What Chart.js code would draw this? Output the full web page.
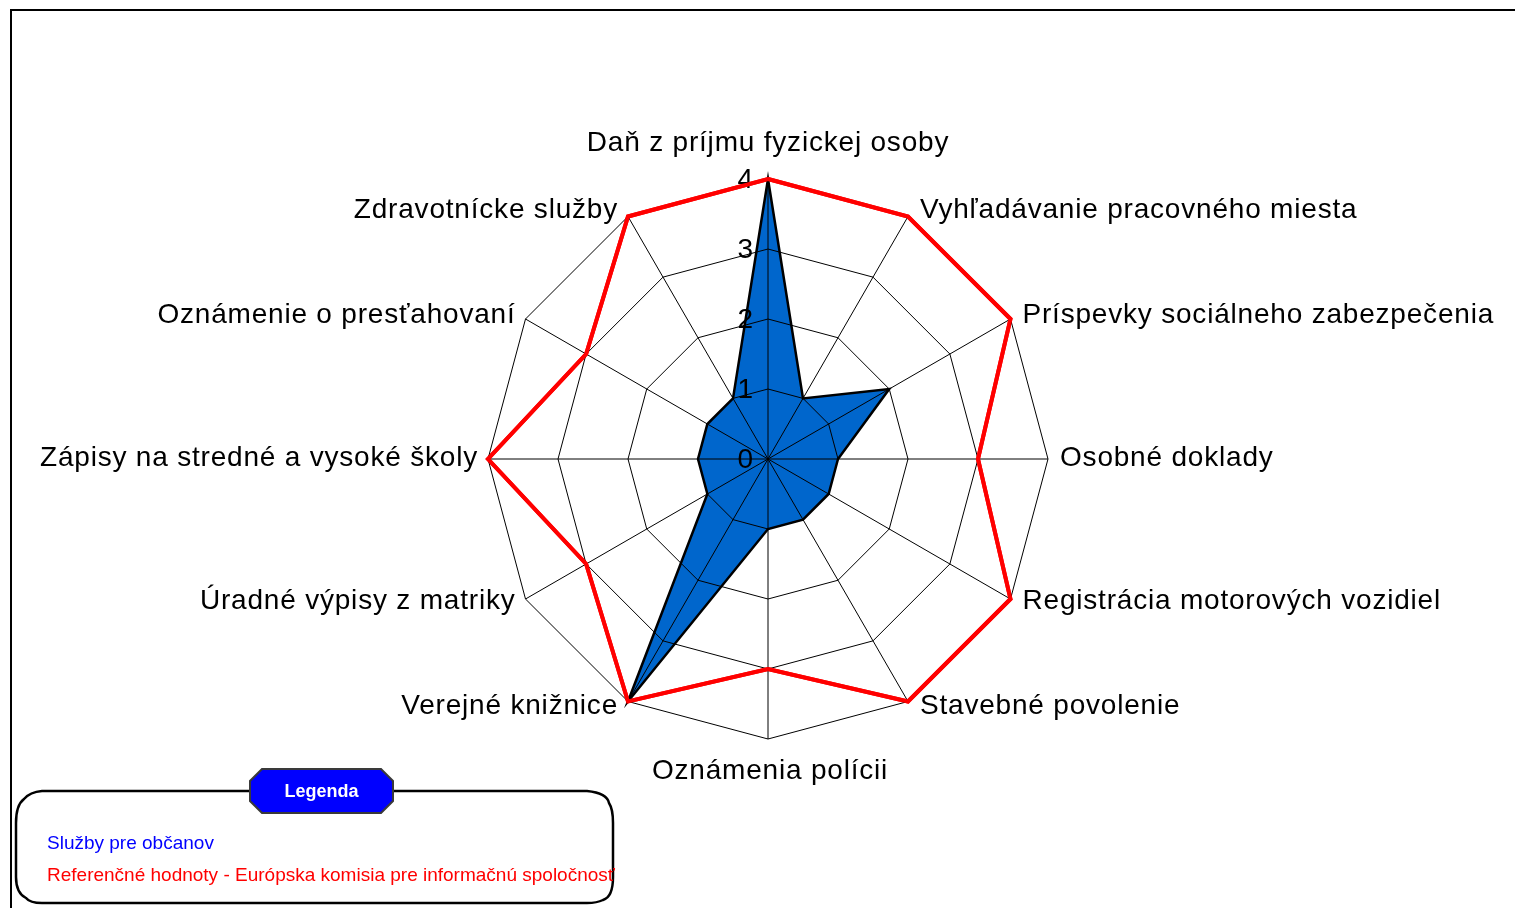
<!DOCTYPE html>
<html>
<head>
<meta charset="utf-8">
<script src="https://cdn.jsdelivr.net/npm/chart.js@4"></script>
<style>
  html, body { margin: 0; padding: 0; background: #ffffff; }
  #wrap { position: relative; width: 1515px; height: 908px; }
  canvas { display: block; }
</style>
</head>
<body>
<div id="wrap"><canvas id="c" width="1515" height="908"></canvas></div>
<script>
const categories = [
  'Daň z príjmu fyzickej osoby',
  'Vyhľadávanie pracovného miesta',
  'Príspevky sociálneho zabezpečenia',
  'Osobné doklady',
  'Registrácia motorových vozidiel',
  'Stavebné povolenie',
  'Oznámenia polícii',
  'Verejné knižnice',
  'Úradné výpisy z matriky',
  'Zápisy na stredné a vysoké školy',
  'Oznámenie o presťahovaní',
  'Zdravotnícke služby'
];
const sluzbyValues = [4, 1, 2, 1, 1, 1, 1, 4, 1, 1, 1, 1];
const referenceValues = [4, 4, 4, 3, 4, 4, 3, 4, 3, 4, 3, 4];
const tickLabels = ['0', '1', '2', '3', '4'];
const seriesNames = ['Služby pre občanov', 'Referenčné hodnoty - Európska komisia pre informačnú spoločnosť'];
const legendTitle = 'Legenda';

const FONT = '"Liberation Sans", Arial, sans-serif';

const decorPlugin = {
  id: 'decor',
  beforeDraw(chart) {
    const ctx = chart.ctx;
    ctx.save();
    ctx.fillStyle = '#ffffff';
    ctx.fillRect(0, 0, chart.width, chart.height);
    ctx.strokeStyle = '#000000';
    ctx.lineWidth = 2;
    ctx.beginPath();
    ctx.moveTo(11, chart.height);
    ctx.lineTo(11, 10);
    ctx.lineTo(chart.width, 10);
    ctx.stroke();
    ctx.restore();
  },
  afterDraw(chart) {
    const ctx = chart.ctx;
    const scale = chart.scales.r;
    const R = scale.drawingArea;
    const n = chart.data.labels.length;

    // tick labels
    ctx.save();
    ctx.fillStyle = '#000000';
    ctx.font = '28px ' + FONT;
    ctx.textAlign = 'right';
    ctx.textBaseline = 'alphabetic';
    tickLabels.forEach((t) => {
      const d = scale.getDistanceFromCenterForValue(Number(t));
      ctx.fillText(t, scale.xCenter - 15, scale.yCenter - d + 9);
    });
    ctx.restore();

    // point labels
    ctx.save();
    ctx.fillStyle = '#000000';
    ctx.font = '28px ' + FONT;
    try { ctx.letterSpacing = '0.8px'; } catch (e) {}
    ctx.textBaseline = 'alphabetic';
    chart.data.labels.forEach((lab, i) => {
      const p = scale.getPointPosition(i, R);
      const theta = i * 2 * Math.PI / n;
      if (i === 0) {
        ctx.textAlign = 'center';
        ctx.fillText(lab, p.x, p.y - 28);
      } else if (i === n / 2) {
        ctx.textAlign = 'center';
        ctx.fillText(lab, p.x + 2, p.y + 40);
      } else {
        const right = i < n / 2;
        ctx.textAlign = right ? 'left' : 'right';
        const x = p.x + (right ? 12 : -10);
        const y = p.y + 7 - 6 * Math.cos(theta);
        ctx.fillText(lab, x, y);
      }
    });
    ctx.restore();

    // redraw reference line on top of grid
    const meta = chart.getDatasetMeta(1);
    ctx.save();
    meta.controller.draw();
    ctx.restore();

    // legend
    ctx.save();
    const bx = 16, by = 791, bw = 597, bh = 112, r = 26;
    ctx.strokeStyle = '#000000';
    ctx.lineWidth = 2.5;
    ctx.beginPath();
    ctx.moveTo(bx + r, by);
    ctx.lineTo(bx + bw - r, by);
    ctx.quadraticCurveTo(bx + bw - 6, by + 2, bx + bw - 4, by + 12);
    ctx.quadraticCurveTo(bx + bw, by + 18, bx + bw, by + r + 6);
    ctx.lineTo(bx + bw, by + bh - r);
    ctx.quadraticCurveTo(bx + bw, by + bh - 6, bx + bw - 10, by + bh - 3);
    ctx.quadraticCurveTo(bx + bw - 16, by + bh, bx + bw - r, by + bh);
    ctx.lineTo(bx + r, by + bh);
    ctx.quadraticCurveTo(bx + 14, by + bh, bx + 10, by + bh - 5);
    ctx.quadraticCurveTo(bx, by + bh - 10, bx, by + bh - r);
    ctx.lineTo(bx, by + r + 6);
    ctx.quadraticCurveTo(bx, by + 14, bx + 8, by + 8);
    ctx.quadraticCurveTo(bx + 14, by + 1, bx + r, by);
    ctx.closePath();
    ctx.stroke();

    // badge
    const gx = 250, gy = 769, gw = 143, gh = 44, c = 12;
    ctx.beginPath();
    ctx.moveTo(gx + c, gy);
    ctx.lineTo(gx + gw - c, gy);
    ctx.lineTo(gx + gw, gy + c);
    ctx.lineTo(gx + gw, gy + gh - c);
    ctx.lineTo(gx + gw - c, gy + gh);
    ctx.lineTo(gx + c, gy + gh);
    ctx.lineTo(gx, gy + gh - c);
    ctx.lineTo(gx, gy + c);
    ctx.closePath();
    ctx.fillStyle = '#0000FF';
    ctx.fill();
    ctx.strokeStyle = '#3a3a3a';
    ctx.lineWidth = 2;
    ctx.stroke();
    ctx.fillStyle = '#ffffff';
    ctx.font = 'bold 18px ' + FONT;
    ctx.textAlign = 'center';
    ctx.textBaseline = 'middle';
    ctx.fillText(legendTitle, gx + gw / 2, gy + gh / 2 + 1);

    ctx.textAlign = 'left';
    ctx.textBaseline = 'alphabetic';
    ctx.font = '19px ' + FONT;
    const legendColors = ['#0000FF', '#FF0000'];
    chart.data.datasets.forEach((ds, k) => {
      ctx.fillStyle = legendColors[k];
      ctx.fillText(ds.label, 47, 849 + k * 32);
    });
    ctx.restore();
  }
};

new Chart(document.getElementById('c'), {
  type: 'radar',
  data: {
    labels: categories,
    datasets: [
      {
        label: seriesNames[0],
        data: sluzbyValues,
        backgroundColor: '#0066CC',
        borderColor: '#000000',
        borderWidth: 2.5,
        fill: true,
        pointRadius: 0,
        pointHoverRadius: 0,
        tension: 0
      },
      {
        label: seriesNames[1],
        data: referenceValues,
        backgroundColor: 'rgba(0,0,0,0)',
        borderColor: '#FF0000',
        borderWidth: 4,
        fill: false,
        pointRadius: 0,
        pointHoverRadius: 0,
        tension: 0
      }
    ]
  },
  options: {
    responsive: false,
    devicePixelRatio: 1,
    animation: false,
    events: [],
    layout: { padding: { left: 488, right: 467, top: 179, bottom: 169 } },
    plugins: { legend: { display: false }, tooltip: { enabled: false } },
    scales: {
      r: {
        min: 0,
        max: 4,
        z: 1,
        ticks: { display: false, stepSize: 1 },
        pointLabels: { display: false },
        grid: { z: 1, color: '#000000', lineWidth: 1, circular: false },
        angleLines: { display: true, color: '#000000', lineWidth: 1 }
      }
    }
  },
  plugins: [decorPlugin]
});
</script>
</body>
</html>
